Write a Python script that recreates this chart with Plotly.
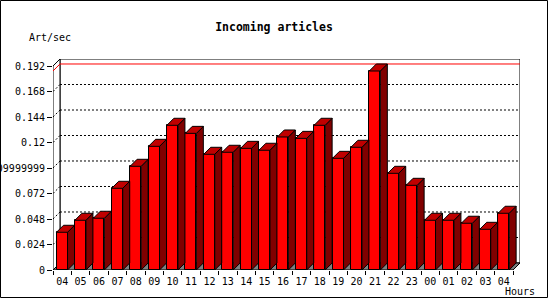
import plotly.graph_objects as go

# ---- data ----
hours = ["04", "05", "06", "07", "08", "09", "10", "11", "12", "13", "14", "15",
         "16", "17", "18", "19", "20", "21", "22", "23", "00", "01", "02", "03", "04"]
art_per_sec = [0.0355, 0.0468, 0.0487, 0.0769, 0.0976, 0.1164, 0.1362, 0.1286,
               0.1089, 0.1108, 0.1145, 0.1127, 0.1252, 0.1239, 0.1362, 0.1051,
               0.1155, 0.1873, 0.0910, 0.0797, 0.0468, 0.0468, 0.0440, 0.0383,
               0.0534]
y_tick_vals = [0, 0.024, 0.048, 0.072, 0.096, 0.12, 0.144, 0.168, 0.192]
y_tick_text = ["0", "0.024", "0.048", "0.072", "0.09999999", "0.12", "0.144",
               "0.168", "0.192"]

# ---- geometry / style ----
L, R, T, B = 53, 30, 59, 30
W, H = 550, 300
PW, PH = W - L - R, H - T - B
DX = 0.38          # depth in category units
DY = 0.0066        # depth in value units
YTOP = y_tick_vals[-1]
XMIN, XMAX = -0.5, len(hours) - 0.5
BAR_OFF, BAR_W = -0.31, 0.6
FONT = "DejaVu Sans Mono"
FRONT, SIDE, TOP, FLOOR = "#ff0000", "#800000", "#c00000", "#808080"


def px_x(p):
    return (p - L) / PW


def px_y(p):
    return (H - B - p) / PH


xs = list(range(len(hours)))
fig = go.Figure()

# front faces
fig.add_trace(go.Bar(x=xs, y=art_per_sec, width=BAR_W, offset=BAR_OFF,
                     marker=dict(color=FRONT, line=dict(color="black", width=1)),
                     hoverinfo="skip", showlegend=False))

# side faces and top faces
sx, sy, tx, ty = [], [], [], []
for i, v in zip(xs, art_per_sec):
    xl = i + BAR_OFF
    xr = xl + BAR_W
    sx += [xr, xr + DX, xr + DX, xr, xr, None]
    sy += [0, DY, v + DY, v, 0, None]
    tx += [xl, xl + DX, xr + DX, xr, xl, None]
    ty += [v, v + DY, v + DY, v, v, None]
fig.add_trace(go.Scatter(x=sx, y=sy, mode="lines", fill="toself", fillcolor=SIDE,
                         line=dict(color="black", width=1), hoverinfo="skip",
                         showlegend=False))
fig.add_trace(go.Scatter(x=tx, y=ty, mode="lines", fill="toself", fillcolor=TOP,
                         line=dict(color="black", width=1), hoverinfo="skip",
                         showlegend=False))

shapes = []
# back wall
shapes.append(dict(type="rect", xref="x", yref="y", x0=XMIN + DX, x1=XMAX + DX,
                   y0=DY, y1=YTOP + DY, fillcolor="white",
                   line=dict(color="black", width=1), layer="below"))
# left wall
shapes.append(dict(type="path", xref="x", yref="y", layer="below",
                   path=f"M {XMIN} 0 L {XMIN} {YTOP} L {XMIN+DX} {YTOP+DY} L {XMIN+DX} {DY} Z",
                   fillcolor="white", line=dict(color="black", width=1)))
# floor
shapes.append(dict(type="path", xref="x", yref="y", layer="below",
                   path=f"M {XMIN} 0 L {XMAX} 0 L {XMAX+DX} {DY} L {XMIN+DX} {DY} Z",
                   fillcolor=FLOOR, line=dict(color="black", width=1)))
# gridlines on back wall and marks on left wall
for t in y_tick_vals[1:-1]:
    shapes.append(dict(type="line", xref="x", yref="y", layer="below",
                       x0=XMIN + DX, x1=XMAX + DX, y0=t + DY, y1=t + DY,
                       line=dict(color="black", width=1, dash="2px,2px")))
    shapes.append(dict(type="line", xref="x", yref="y", layer="below",
                       x0=XMIN, x1=XMIN + DX, y0=t, y1=t + DY,
                       line=dict(color="black", width=1, dash="2px,2px")))
# max line
vmax = max(art_per_sec)
shapes.append(dict(type="path", xref="x", yref="y", layer="below",
                   path=f"M {XMIN} {vmax} L {XMIN+DX} {vmax+DY} L {XMAX+DX} {vmax+DY}",
                   line=dict(color="red", width=1)))
# outer border
shapes.append(dict(type="rect", xref="paper", yref="paper",
                   x0=px_x(0.5), x1=px_x(547.5), y0=px_y(297.5), y1=px_y(0.5),
                   line=dict(color="black", width=1)))

annotations = [
    dict(text="Art/sec", xref="paper", yref="paper", x=px_x(50.3), y=px_y(37.7),
         xanchor="center", yanchor="middle", showarrow=False,
         font=dict(family=FONT, size=10, color="black")),
    dict(text="Hours", xref="paper", yref="paper", x=px_x(519.5), y=px_y(291.7),
         xanchor="center", yanchor="middle", showarrow=False,
         font=dict(family=FONT, size=10, color="black")),
]

fig.update_layout(
    template="none",
    width=W, height=H,
    margin=dict(l=L, r=R, t=T, b=B, pad=0),
    paper_bgcolor="white", plot_bgcolor="white",
    title=dict(text="Incoming articles", xref="container", yref="container",
               x=274 / W, y=1 - 26.7 / H, xanchor="center", yanchor="middle",
               font=dict(family=FONT, size=11.5, color="black", weight="bold")),
    shapes=shapes,
    annotations=annotations,
    bargap=0,
    showlegend=False,
    xaxis=dict(range=[XMIN, XMAX + DX], tickmode="array", tickvals=xs,
               ticktext=hours, ticks="", showgrid=False, zeroline=False,
               showline=False, automargin=False, fixedrange=True,
               ticklabelstandoff=4,
               tickfont=dict(family=FONT, size=10, color="black"),
               minor=dict(tickmode="array",
                          tickvals=[i - 0.5 for i in range(len(hours) + 1)],
                          ticks="outside", ticklen=4, tickcolor="black",
                          tickwidth=1, showgrid=False)),
    yaxis=dict(range=[0, YTOP + DY], tickmode="array", tickvals=y_tick_vals,
               ticktext=y_tick_text, ticks="outside", ticklen=5, tickcolor="black",
               tickwidth=1, showgrid=False, zeroline=False, showline=False,
               automargin=False, fixedrange=True,
               tickfont=dict(family=FONT, size=10, color="black")),
)

fig.write_html("out.html", config={"displayModeBar": False})
